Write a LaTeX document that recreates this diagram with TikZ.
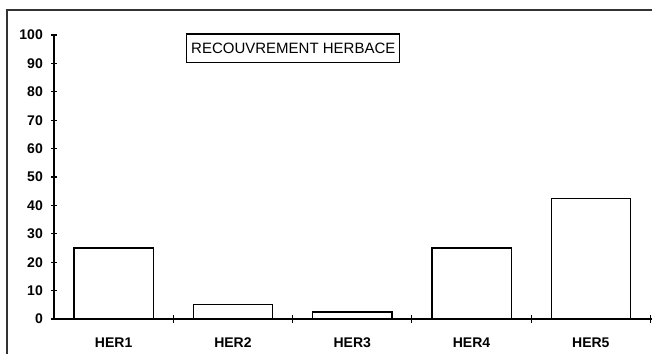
\documentclass[tikz,border=0pt]{standalone}
\usepackage{fontspec}
\setmainfont{Liberation Sans}
\begin{document}
\begin{tikzpicture}[x=1pt,y=-1pt,
  frame/.style={line width=2pt,black!80},
  axisline/.style={line width=1.3pt,black},
  tickline/.style={line width=1.1pt,black},
  barbox/.style={line width=1.3pt,black},
  ylab/.style={anchor=east,inner sep=0pt,font=\bfseries\fontsize{14}{14}\selectfont},
  xlab/.style={inner sep=0pt,font=\bfseries\fontsize{14}{14}\selectfont},
  titlebox/.style={draw,line width=1.2pt,minimum width=213pt,minimum height=28.7pt,inner sep=0pt,font=\fontsize{15}{15}\selectfont}]
\useasboundingbox (0,0) rectangle (652,354);
\fill[white] (0,0) rectangle (652,354);
% frame
\draw[frame] (7,354) -- (7,10) -- (652,10);
% axes
\coordinate (top) at (54,35);
\coordinate (origin) at (54,319);
\coordinate (xend) at (652,319);
\draw[axisline] (top) -- (origin) -- (xend);
% y ticks and labels
\foreach \v in {0,10,...,100}{
  \draw[tickline] (51,{319-2.84*\v}) -- (57,{319-2.84*\v});
  \node[ylab] (y\v) at (43,{319-2.84*\v}) {\v};
}
% x ticks
\foreach \i in {1,...,5}{
  \draw[tickline] ({54+119.3*\i},315) -- ({54+119.3*\i},323);
}
% bars and labels
\foreach \i/\v/\n in {0/25/HER1,1/5/HER2,2/2.5/HER3,3/25/HER4,4/42.5/HER5}{
  \draw[barbox] ({54+119.3*\i+20},319) rectangle ({54+119.3*\i+99.3},{319-2.84*\v});
  \node[xlab] (\n) at ({54+119.3*\i+59.65},343) {\n};
}
% title
\node[titlebox] (title) at (293.3,48.3) {RECOUVREMENT HERBACE};
\end{tikzpicture}
\end{document}
